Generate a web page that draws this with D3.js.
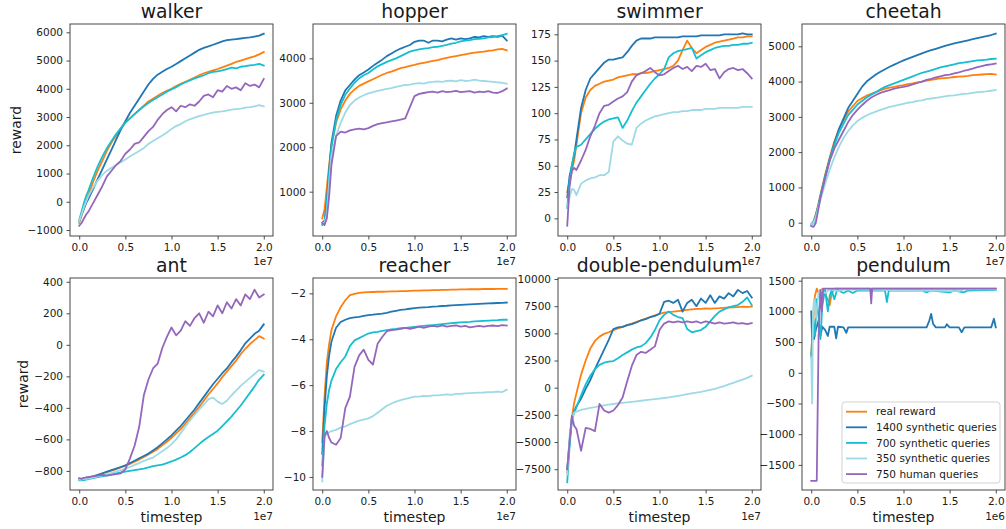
<!DOCTYPE html>
<html><head><meta charset="utf-8">
<script src="https://cdn.jsdelivr.net/npm/d3@7"></script>
<style>
body{margin:0;background:#fff}
svg{display:block}
text{font-family:"DejaVu Sans",sans-serif;fill:#1a1a1a}
</style>
</head><body>
<svg id="c" width="1006" height="529"></svg>
<script>
// ---------------- DATA ----------------
const seriesNames = ["real reward","1400 synthetic queries","700 synthetic queries","350 synthetic queries","750 human queries"];
const seriesColors = ["#ff7f0e","#1f77b4","#17becf","#9edae5","#9467bd"];
const xTickLabels = [0.0,0.5,1.0,1.5,2.0];

// timestep grid (units of 1e7)
const X = [0,0.025,0.05,0.075,0.1,0.15,0.2,0.25,0.3,0.35,0.4,0.45,0.5,0.55,0.6,0.65,0.7,0.75,0.8,0.85,0.9,0.95,1.0,1.05,1.1,1.15,1.2,1.25,1.3,1.35,1.4,1.45,1.5,1.55,1.6,1.65,1.7,1.75,1.8,1.85,1.9,1.95,2.0];

const walkerReal = [-750,-500,-250,0,250,700,1100,1450,1800,2100,2350,2600,2800,2950,3100,3250,3400,3550,3650,3750,3850,3930,4000,4100,4180,4250,4320,4400,4480,4550,4600,4650,4700,4760,4820,4880,4950,5000,5050,5100,5150,5220,5300];
const walker1400 = [-700,-450,-250,-50,100,450,800,1150,1500,1850,2200,2550,2850,3150,3400,3650,3900,4150,4350,4500,4600,4700,4780,4880,4980,5080,5180,5280,5380,5450,5500,5560,5620,5680,5720,5740,5760,5780,5800,5820,5850,5880,5950];
const walker700 = [-650,-350,-50,200,400,850,1250,1600,1900,2150,2400,2600,2800,2950,3100,3250,3380,3500,3600,3700,3800,3900,3980,4060,4150,4230,4300,4370,4420,4480,4550,4600,4620,4650,4700,4750,4720,4780,4800,4830,4850,4880,4820];
const walker350 = [-700,-450,-200,0,200,500,750,950,1100,1200,1300,1400,1500,1600,1700,1800,1900,2050,2150,2250,2350,2450,2580,2680,2750,2850,2920,2980,3030,3080,3120,3160,3180,3200,3230,3260,3280,3300,3330,3350,3380,3420,3380];
const walkerHuman = [-850,-750,-600,-450,-350,-50,250,550,900,1100,1300,1450,1700,1850,2050,2100,2300,2500,2650,2900,3100,3250,3350,3200,3400,3350,3450,3400,3550,3750,3800,3700,3950,3900,4100,4000,4050,3950,4200,4100,4150,4050,4350];

const hopperReal = [400,600,1100,1600,2050,2550,2850,3050,3200,3300,3380,3430,3480,3530,3580,3630,3670,3700,3740,3780,3800,3830,3850,3880,3900,3920,3940,3960,3990,4010,4030,4050,4070,4090,4110,4130,4140,4150,4170,4180,4200,4210,4180];
const hopper1400 = [300,350,800,1500,2100,2700,3050,3280,3400,3520,3620,3680,3750,3830,3900,3970,4050,4110,4170,4220,4260,4300,4370,4400,4400,4350,4400,4400,4380,4420,4450,4420,4450,4430,4450,4480,4470,4500,4480,4500,4480,4510,4400];
const hopper700 = [250,300,700,1400,2000,2600,2950,3180,3320,3450,3550,3620,3670,3750,3820,3870,3920,3960,4000,4050,4100,4150,4180,4200,4220,4230,4250,4260,4280,4300,4330,4350,4380,4400,4410,4430,4440,4450,4470,4480,4500,4520,4550];
const hopper350 = [300,300,500,1200,1800,2250,2550,2780,2950,3050,3120,3170,3210,3240,3270,3290,3310,3330,3360,3380,3400,3410,3430,3440,3430,3460,3470,3480,3470,3490,3500,3480,3510,3490,3500,3520,3500,3490,3480,3470,3460,3450,3430];
const hopperHuman = [300,250,400,900,1600,2250,2350,2330,2380,2400,2420,2400,2430,2480,2520,2540,2560,2580,2600,2620,2650,2900,3150,3200,3220,3240,3250,3230,3260,3240,3250,3270,3240,3250,3260,3230,3250,3240,3260,3230,3220,3260,3320];

const swimmerReal = [25,35,45,55,70,100,115,122,126,128,130,131,132,134,135,136,137,137,138,138,139,140,141,142,143,145,150,160,169,162,157,160,163,165,167,168,169,170,171,172,172,173,173];
const swimmer1400 = [20,40,50,60,75,105,122,133,138,143,148,151,151,152,153,158,164,169,171,171,171,172,172,172,172,172,172,173,173,173,173,174,174,174,174,174,175,175,175,175,176,175,175];
const swimmer700 = [10,35,50,62,68,70,75,80,85,89,92,94,95,96,86,93,102,110,116,122,128,133,137,142,153,157,159,160,161,162,152,155,158,160,162,163,164,164,165,165,166,166,167];
const swimmer350 = [10,20,28,27,22,33,36,38,39,41,41,44,73,78,74,71,70,86,90,93,95,97,98,99,100,101,101,102,102,103,103,103,104,104,104,105,105,105,105,105,106,106,106];
const swimmerHuman = [-7,30,45,48,46,55,65,78,88,100,107,108,111,114,116,120,130,136,138,140,143,139,136,137,140,143,145,142,144,140,145,144,147,141,142,133,139,142,143,141,142,138,133];

const cheetahReal = [-50,50,250,500,800,1350,1850,2300,2650,2900,3150,3300,3450,3530,3600,3650,3700,3750,3800,3830,3850,3880,3900,3930,3950,3980,4000,4030,4050,4070,4090,4100,4110,4130,4140,4150,4160,4180,4190,4200,4210,4220,4200];
const cheetah1400 = [-50,0,200,450,750,1300,1800,2250,2650,2950,3250,3450,3650,3850,4000,4100,4200,4280,4350,4420,4480,4540,4600,4650,4700,4750,4800,4850,4890,4930,4970,5010,5050,5080,5110,5140,5170,5200,5230,5260,5290,5320,5360];
const cheetah700 = [-50,0,200,450,750,1300,1780,2200,2550,2800,3050,3200,3350,3450,3550,3630,3700,3780,3850,3900,3950,4000,4050,4100,4150,4200,4250,4280,4320,4360,4400,4430,4460,4490,4520,4540,4560,4580,4600,4610,4620,4640,4650];
const cheetah350 = [-50,0,150,400,650,1100,1500,1850,2150,2400,2600,2750,2880,2970,3040,3100,3150,3200,3240,3280,3310,3340,3370,3400,3420,3450,3470,3500,3520,3540,3560,3580,3600,3610,3630,3650,3660,3680,3700,3710,3720,3740,3760];
const cheetahHuman = [-100,-120,0,350,700,1250,1750,2100,2350,2600,2850,3050,3200,3330,3450,3550,3620,3680,3720,3760,3800,3830,3850,3880,3920,3960,4000,4050,4080,4120,4150,4180,4200,4230,4260,4300,4330,4370,4410,4440,4470,4490,4510];

const antReal = [-850,-850,-848,-845,-842,-835,-828,-818,-808,-798,-788,-778,-768,-756,-742,-728,-712,-695,-678,-660,-638,-615,-590,-562,-535,-500,-465,-430,-395,-355,-315,-280,-245,-205,-170,-135,-100,-60,-25,5,30,55,40];
const ant1400 = [-850,-850,-845,-845,-840,-835,-825,-815,-805,-795,-785,-775,-765,-750,-735,-720,-705,-690,-670,-650,-625,-600,-575,-545,-515,-480,-445,-410,-370,-330,-290,-250,-215,-180,-150,-110,-75,-35,10,40,70,90,130];
const ant700 = [-860,-860,-858,-855,-852,-846,-840,-834,-828,-822,-815,-810,-805,-800,-795,-790,-785,-778,-770,-765,-760,-750,-740,-728,-715,-700,-680,-655,-630,-605,-585,-565,-545,-515,-485,-455,-420,-385,-345,-305,-265,-220,-190];
const ant350 = [-855,-855,-850,-850,-848,-842,-835,-828,-820,-812,-805,-795,-785,-775,-762,-750,-737,-725,-715,-695,-675,-655,-630,-600,-560,-520,-480,-445,-410,-380,-345,-335,-360,-375,-355,-320,-290,-260,-235,-210,-185,-160,-170];
const antHuman = [-845,-850,-845,-840,-840,-835,-830,-825,-830,-825,-820,-815,-790,-720,-640,-520,-320,-220,-150,-120,-20,50,110,60,90,150,120,170,200,140,210,180,250,200,270,230,290,250,320,290,350,300,320];

const reacherReal = [-8.5,-6.5,-5.0,-4.2,-3.6,-3.0,-2.6,-2.3,-2.08,-2.02,-1.98,-1.96,-1.95,-1.94,-1.93,-1.93,-1.92,-1.91,-1.91,-1.9,-1.9,-1.89,-1.88,-1.88,-1.87,-1.87,-1.86,-1.86,-1.85,-1.85,-1.84,-1.84,-1.83,-1.83,-1.82,-1.82,-1.82,-1.81,-1.81,-1.81,-1.8,-1.8,-1.8];
const reacher1400 = [-9,-7.0,-5.6,-4.7,-4.1,-3.5,-3.25,-3.15,-3.08,-3.05,-3.02,-2.98,-2.95,-2.93,-2.9,-2.88,-2.85,-2.8,-2.76,-2.72,-2.7,-2.67,-2.64,-2.62,-2.61,-2.6,-2.58,-2.57,-2.55,-2.54,-2.52,-2.51,-2.5,-2.49,-2.48,-2.47,-2.46,-2.45,-2.44,-2.43,-2.42,-2.41,-2.4];
const reacher700 = [-9.5,-7.8,-6.8,-6.2,-5.8,-5.3,-5.0,-4.75,-4.3,-4.05,-3.95,-3.85,-3.75,-3.7,-3.68,-3.63,-3.6,-3.57,-3.55,-3.52,-3.5,-3.48,-3.46,-3.44,-3.42,-3.4,-3.38,-3.36,-3.34,-3.32,-3.3,-3.28,-3.26,-3.25,-3.24,-3.22,-3.21,-3.2,-3.19,-3.18,-3.17,-3.15,-3.15];
const reacher350 = [-10.2,-8.3,-8.1,-8.05,-8.0,-7.95,-7.85,-7.8,-7.7,-7.62,-7.55,-7.5,-7.45,-7.35,-7.2,-7.05,-6.9,-6.8,-6.72,-6.65,-6.6,-6.55,-6.5,-6.5,-6.47,-6.48,-6.45,-6.45,-6.42,-6.4,-6.42,-6.38,-6.38,-6.36,-6.35,-6.34,-6.33,-6.32,-6.3,-6.3,-6.28,-6.3,-6.2];
const reacherHuman = [-10,-8.2,-8.0,-8.3,-8.5,-8.6,-8.3,-7.0,-6.5,-5.2,-4.7,-4.45,-4.9,-5.1,-4.2,-3.9,-3.65,-3.6,-3.58,-3.55,-3.5,-3.55,-3.5,-3.45,-3.5,-3.45,-3.42,-3.45,-3.4,-3.45,-3.42,-3.4,-3.45,-3.42,-3.48,-3.45,-3.42,-3.45,-3.42,-3.4,-3.43,-3.38,-3.4];

const doubleReal = [-7800,-5000,-2800,-1400,-500,1200,2500,3600,4300,4700,4950,5100,5300,5450,5600,5750,5900,6050,6200,6350,6500,6650,6800,6900,6950,7000,7050,7100,7150,7200,7250,7250,7300,7280,7300,7320,7350,7380,7400,7420,7450,7430,7450];
const double1400 = [-7500,-5000,-2900,-2200,-1700,-1000,-100,700,1700,2600,3500,4400,5400,5550,5600,5750,5850,6000,6200,6300,6500,6600,6800,7900,8000,7800,8100,7000,7800,8100,7500,8200,7800,8500,7800,8400,8200,8700,8400,9000,8700,8900,8300];
const double700 = [-8700,-5500,-3000,-2300,-1800,-700,300,1100,1700,2100,2300,2400,2450,2700,3000,3250,3500,3700,3800,4100,4600,5300,6200,6700,7000,6700,6500,6400,5400,5100,5200,5300,5600,6100,6600,7000,7200,7400,7500,7600,7900,8300,7600];
const double350 = [-8000,-4500,-2800,-2300,-2200,-2050,-1950,-1850,-1780,-1700,-1620,-1560,-1500,-1450,-1400,-1350,-1300,-1250,-1200,-1150,-1100,-1050,-1000,-950,-900,-820,-750,-680,-600,-520,-450,-380,-300,-200,-100,20,150,300,450,600,750,900,1100];
const doubleHuman = [-7500,-5000,-2600,-3500,-3800,-5800,-3700,-3800,-4000,-1500,-2100,-2300,-2100,-1600,-900,600,2000,3000,3300,3200,3500,3800,5300,5900,6100,6000,6100,6000,6100,6000,6100,5950,6100,6000,5900,6000,5900,5950,6000,5900,5950,5850,5950];

// pendulum: [timestep (1e6), reward] pairs
const pendReal = [[0,300],[0.02,800],[0.04,1250],[0.06,1370],[0.08,1300],[0.1,1200],[0.12,1370],[0.15,1300],[0.2,1100],[0.22,1280],[0.25,1370],[2.0,1370]];
const pend1400 = [[0,1000],[0.01,500],[0.02,800],[0.03,550],[0.05,700],[0.08,850],[0.1,600],[0.12,750],[0.15,700],[0.18,600],[0.2,750],[0.25,750],[0.27,560],[0.29,750],[0.35,740],[0.38,650],[0.4,740],[1.25,740],[1.28,850],[1.3,960],[1.32,800],[1.35,740],[1.45,740],[1.47,790],[1.5,740],[1.6,740],[1.63,660],[1.66,740],[1.95,740],[1.98,880],[2.0,740]];
const pend700 = [[0,250],[0.02,900],[0.04,600],[0.06,1200],[0.08,900],[0.1,550],[0.12,1100],[0.15,1350],[0.18,1000],[0.2,1250],[0.22,1350],[0.25,1200],[0.28,1350],[0.35,1300],[0.4,1340],[0.45,1300],[0.5,1340],[0.8,1340],[0.82,1150],[0.84,1340],[1.2,1340],[1.25,1310],[1.3,1340],[1.5,1310],[1.55,1340],[1.65,1310],[1.7,1340],[2.0,1350]];
const pend350 = [[0,250],[0.01,-500],[0.02,1000],[0.03,1200],[0.05,900],[0.08,1300],[0.1,1350],[0.15,1300],[0.2,1360],[0.3,1330],[0.35,1360],[1.6,1330],[1.65,1360],[2.0,1360]];
const pendHuman = [[0,-1760],[0.06,-1760],[0.08,600],[0.1,1350],[0.115,1000],[0.13,1370],[0.64,1370],[0.65,1130],[0.66,1370],[2.0,1370]];

// ---------------- LAYOUT ----------------
const colLeft = [70, 313, 558, 802];
const rowTop = [24, 278];
const PW = 203, PH = 212;

const zip = ys => ys.map((v, i) => [X[i], v]);

const panels = [
  {title:"walker", r:0, c:0, ylim:[-1212,6294], yticks:d3.range(-1000,6001,1000), off:"1e7",
   series:[walkerReal,walker1400,walker700,walker350,walkerHuman].map(zip)},
  {title:"hopper", r:0, c:1, ylim:[3,4772], yticks:[1000,2000,3000,4000], off:"1e7",
   series:[hopperReal,hopper1400,hopper700,hopper350,hopperHuman].map(zip)},
  {title:"swimmer", r:0, c:2, ylim:[-16.8,184.8], yticks:d3.range(0,176,25), off:"1e7",
   series:[swimmerReal,swimmer1400,swimmer700,swimmer350,swimmerHuman].map(zip)},
  {title:"cheetah", r:0, c:3, ylim:[-377,5632], yticks:d3.range(0,5001,1000), off:"1e7",
   series:[cheetahReal,cheetah1400,cheetah700,cheetah350,cheetahHuman].map(zip)},
  {title:"ant", r:1, c:0, ylim:[-921,424], yticks:d3.range(-800,401,200), off:"1e7",
   series:[antReal,ant1400,ant700,ant350,antHuman].map(zip)},
  {title:"reacher", r:1, c:1, ylim:[-10.57,-1.33], yticks:[-10,-8,-6,-4,-2], off:"1e7",
   series:[reacherReal,reacher1400,reacher700,reacher350,reacherHuman].map(zip)},
  {title:"double-pendulum", r:1, c:2, ylim:[-9413,10092], yticks:d3.range(-7500,10001,2500), off:"1e7",
   series:[doubleReal,double1400,double700,double350,doubleHuman].map(zip)},
  {title:"pendulum", r:1, c:3, ylim:[-1909,1544], yticks:d3.range(-1500,1501,500), off:"1e6",
   series:[pendReal,pend1400,pend700,pend350,pendHuman], legend:true}
];

const svg = d3.select("#c");
const fmtInt = d3.format("d");
const fmtX = d3.format(".1f");

panels.forEach((p, pi) => {
  const L = colLeft[p.c], T = rowTop[p.r];
  const x = d3.scaleLinear().domain([-0.1, 2.1]).range([L, L + PW]);
  const y = d3.scaleLinear().domain(p.ylim).range([T + PH, T]);
  const g = svg.append("g");

  const cid = "clip" + pi;
  svg.append("clipPath").attr("id", cid).append("rect")
    .attr("x", L).attr("y", T).attr("width", PW).attr("height", PH);

  const line = d3.line().x(d => x(d[0])).y(d => y(d[1]));
  const lg = g.append("g").attr("clip-path", `url(#${cid})`);
  p.series.forEach((s, si) => {
    lg.append("path").attr("d", line(s)).attr("fill", "none")
      .attr("stroke", seriesColors[si]).attr("stroke-width", 1.8)
      .attr("stroke-linejoin", "round").attr("stroke-linecap", "square");
  });

  // axes
  const xa = g.append("g").attr("transform", `translate(0,${T + PH})`)
    .call(d3.axisBottom(x).tickValues(xTickLabels).tickFormat(fmtX).tickSize(3.5).tickPadding(4.5));
  const ya = g.append("g").attr("transform", `translate(${L},0)`)
    .call(d3.axisLeft(y).tickValues(p.yticks).tickFormat(fmtInt).tickSize(3.5).tickPadding(3.5));
  [xa, ya].forEach(a => {
    a.select(".domain").remove();
    a.selectAll(".tick line").attr("stroke", "#222").attr("stroke-width", 0.8);
    a.selectAll(".tick text").attr("font-size", "10.5px").attr("font-family", '"DejaVu Sans",sans-serif').attr("fill", "#1a1a1a");
  });

  // spines
  g.append("rect").attr("x", L).attr("y", T).attr("width", PW).attr("height", PH)
    .attr("fill", "none").attr("stroke", "#333").attr("stroke-width", 0.9);

  // title
  g.append("text").attr("x", L + PW / 2).attr("y", T - 6).attr("text-anchor", "middle")
    .attr("font-size", "18.8px").text(p.title);

  // offset text
  g.append("text").attr("x", L + PW).attr("y", T + PH + (p.r === 0 ? 29 : 30)).attr("text-anchor", "end")
    .attr("font-size", "10.5px").text(p.off);

  if (p.c === 0) {
    const lx = p.r === 0 ? 20.7 : 28;
    g.append("text").attr("transform", `translate(${lx},${T + PH / 2}) rotate(-90)`)
      .attr("text-anchor", "middle").attr("font-size", "14px").text("reward");
  }
  if (p.r === 1) {
    g.append("text").attr("x", L + PW / 2).attr("y", 522).attr("text-anchor", "middle")
      .attr("font-size", "14px").text("timestep");
  }

  if (p.legend) {
    const bx = 842, by = 402, bw = 158, bh = 81;
    const leg = g.append("g");
    leg.append("rect").attr("x", bx).attr("y", by).attr("width", bw).attr("height", bh)
      .attr("rx", 3).attr("fill", "#fff").attr("fill-opacity", 0.8)
      .attr("stroke", "#cccccc").attr("stroke-width", 0.9);
    seriesNames.forEach((n, i) => {
      const yy = by + 9.7 + i * 15.6;
      leg.append("line").attr("x1", bx + 4).attr("x2", bx + 25).attr("y1", yy).attr("y2", yy)
        .attr("stroke", seriesColors[i]).attr("stroke-width", 1.8);
      leg.append("text").attr("x", bx + 34).attr("y", yy).attr("dy", "0.36em")
        .attr("font-size", "10.5px").text(n);
    });
  }
});
</script>
</body></html>
